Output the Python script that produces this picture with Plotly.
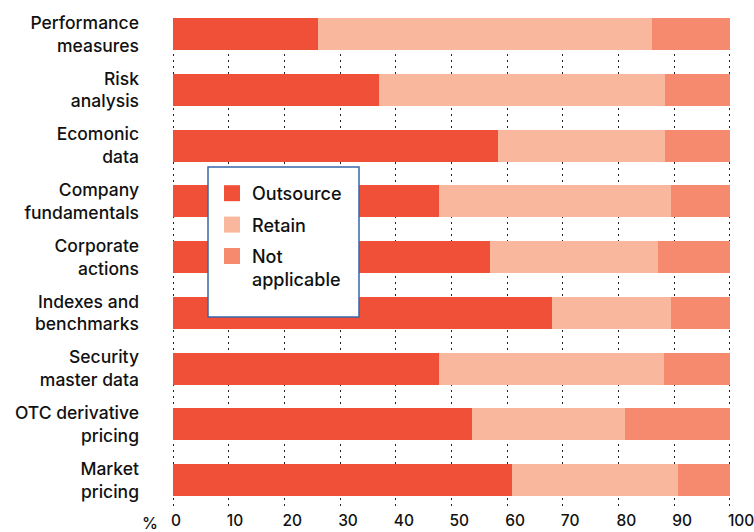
import plotly.graph_objects as go

categories = ["Performance<br>measures", "Risk<br>analysis", "Ecomonic<br>data",
              "Company<br>fundamentals", "Corporate<br>actions", "Indexes and<br>benchmarks",
              "Security<br>master data", "OTC derivative<br>pricing", "Market<br>pricing"]
outsource = [26, 37, 58.3, 47.7, 57, 68, 47.7, 53.6, 60.8]
retain = [60, 51.3, 30, 41.7, 30.1, 21.4, 40.4, 27.5, 29.8]
not_applicable = [14, 11.7, 11.7, 10.6, 12.9, 10.6, 11.9, 18.9, 9.4]
series_names = ["Outsource", "Retain", "Not<br>applicable"]
colors = ["#F05038", "#F9B79D", "#F68A6E"]
x_ticks = [0, 10, 20, 30, 40, 50, 60, 70, 80, 90, 100]

FONT = "Inter"
L, R, T, B = 172, 23, 18, 23
PW = 754 - L - R
PH = 532 - T - B
BOTTOM = 532 - B


def px(p):
    return (p - L) / PW


def py(p):
    return (BOTTOM - p) / PH


fig = go.Figure()
for vals, name, col in zip([outsource, retain, not_applicable], series_names, colors):
    fig.add_trace(go.Bar(y=categories, x=vals, orientation="h", name=name,
                         marker=dict(color=col, line=dict(width=0)),
                         width=0.574, showlegend=False))
# legend entries
for i, (name, col) in enumerate(zip(series_names, colors)):
    fig.add_trace(go.Scatter(x=[None], y=[None], mode="markers", name=name,
                             legendgroup=f"g{i}",
                             marker=dict(symbol="square", size=18, color=col)))

fig.update_layout(
    width=754, height=532,
    margin=dict(l=L, r=R, t=T, b=B),
    barmode="stack",
    plot_bgcolor="white", paper_bgcolor="white",
    font=dict(family=FONT, size=18, color="#111111", weight=500),
    xaxis=dict(range=[-0.2, 100.2], tickvals=x_ticks, showgrid=True, gridcolor="#222222",
               gridwidth=1, griddash="2px,4px", zeroline=False, showline=False,
               ticks="", tickfont=dict(size=15.5), ticklabelposition="outside right",
               ticklabelshift=-2, ticklabeloverflow="allow", automargin=False,
               fixedrange=True),
    yaxis=dict(categoryorder="array", categoryarray=categories,
               range=[8.52, -0.29], showgrid=False, zeroline=False, showline=False,
               ticks="", ticklabelstandoff=32, tickfont=dict(size=17.5), automargin=False),
    legend=dict(x=px(212), y=py(175), xanchor="left", yanchor="top",
                bgcolor="rgba(0,0,0,0)", borderwidth=0, traceorder="grouped",
                tracegroupgap=5, valign="top", itemsizing="trace",
                font=dict(size=18)),
    shapes=[dict(type="rect", xref="paper", yref="paper",
                 x0=px(208), x1=px(359), y0=py(317), y1=py(167),
                 line=dict(color="#3A66A8", width=1.5), fillcolor="white", layer="above")],
    annotations=[dict(text="%", xref="paper", yref="paper", x=px(150),
                      y=py(523), xanchor="center", yanchor="middle",
                      showarrow=False, font=dict(size=16))],
)
fig.write_html("out.html")
